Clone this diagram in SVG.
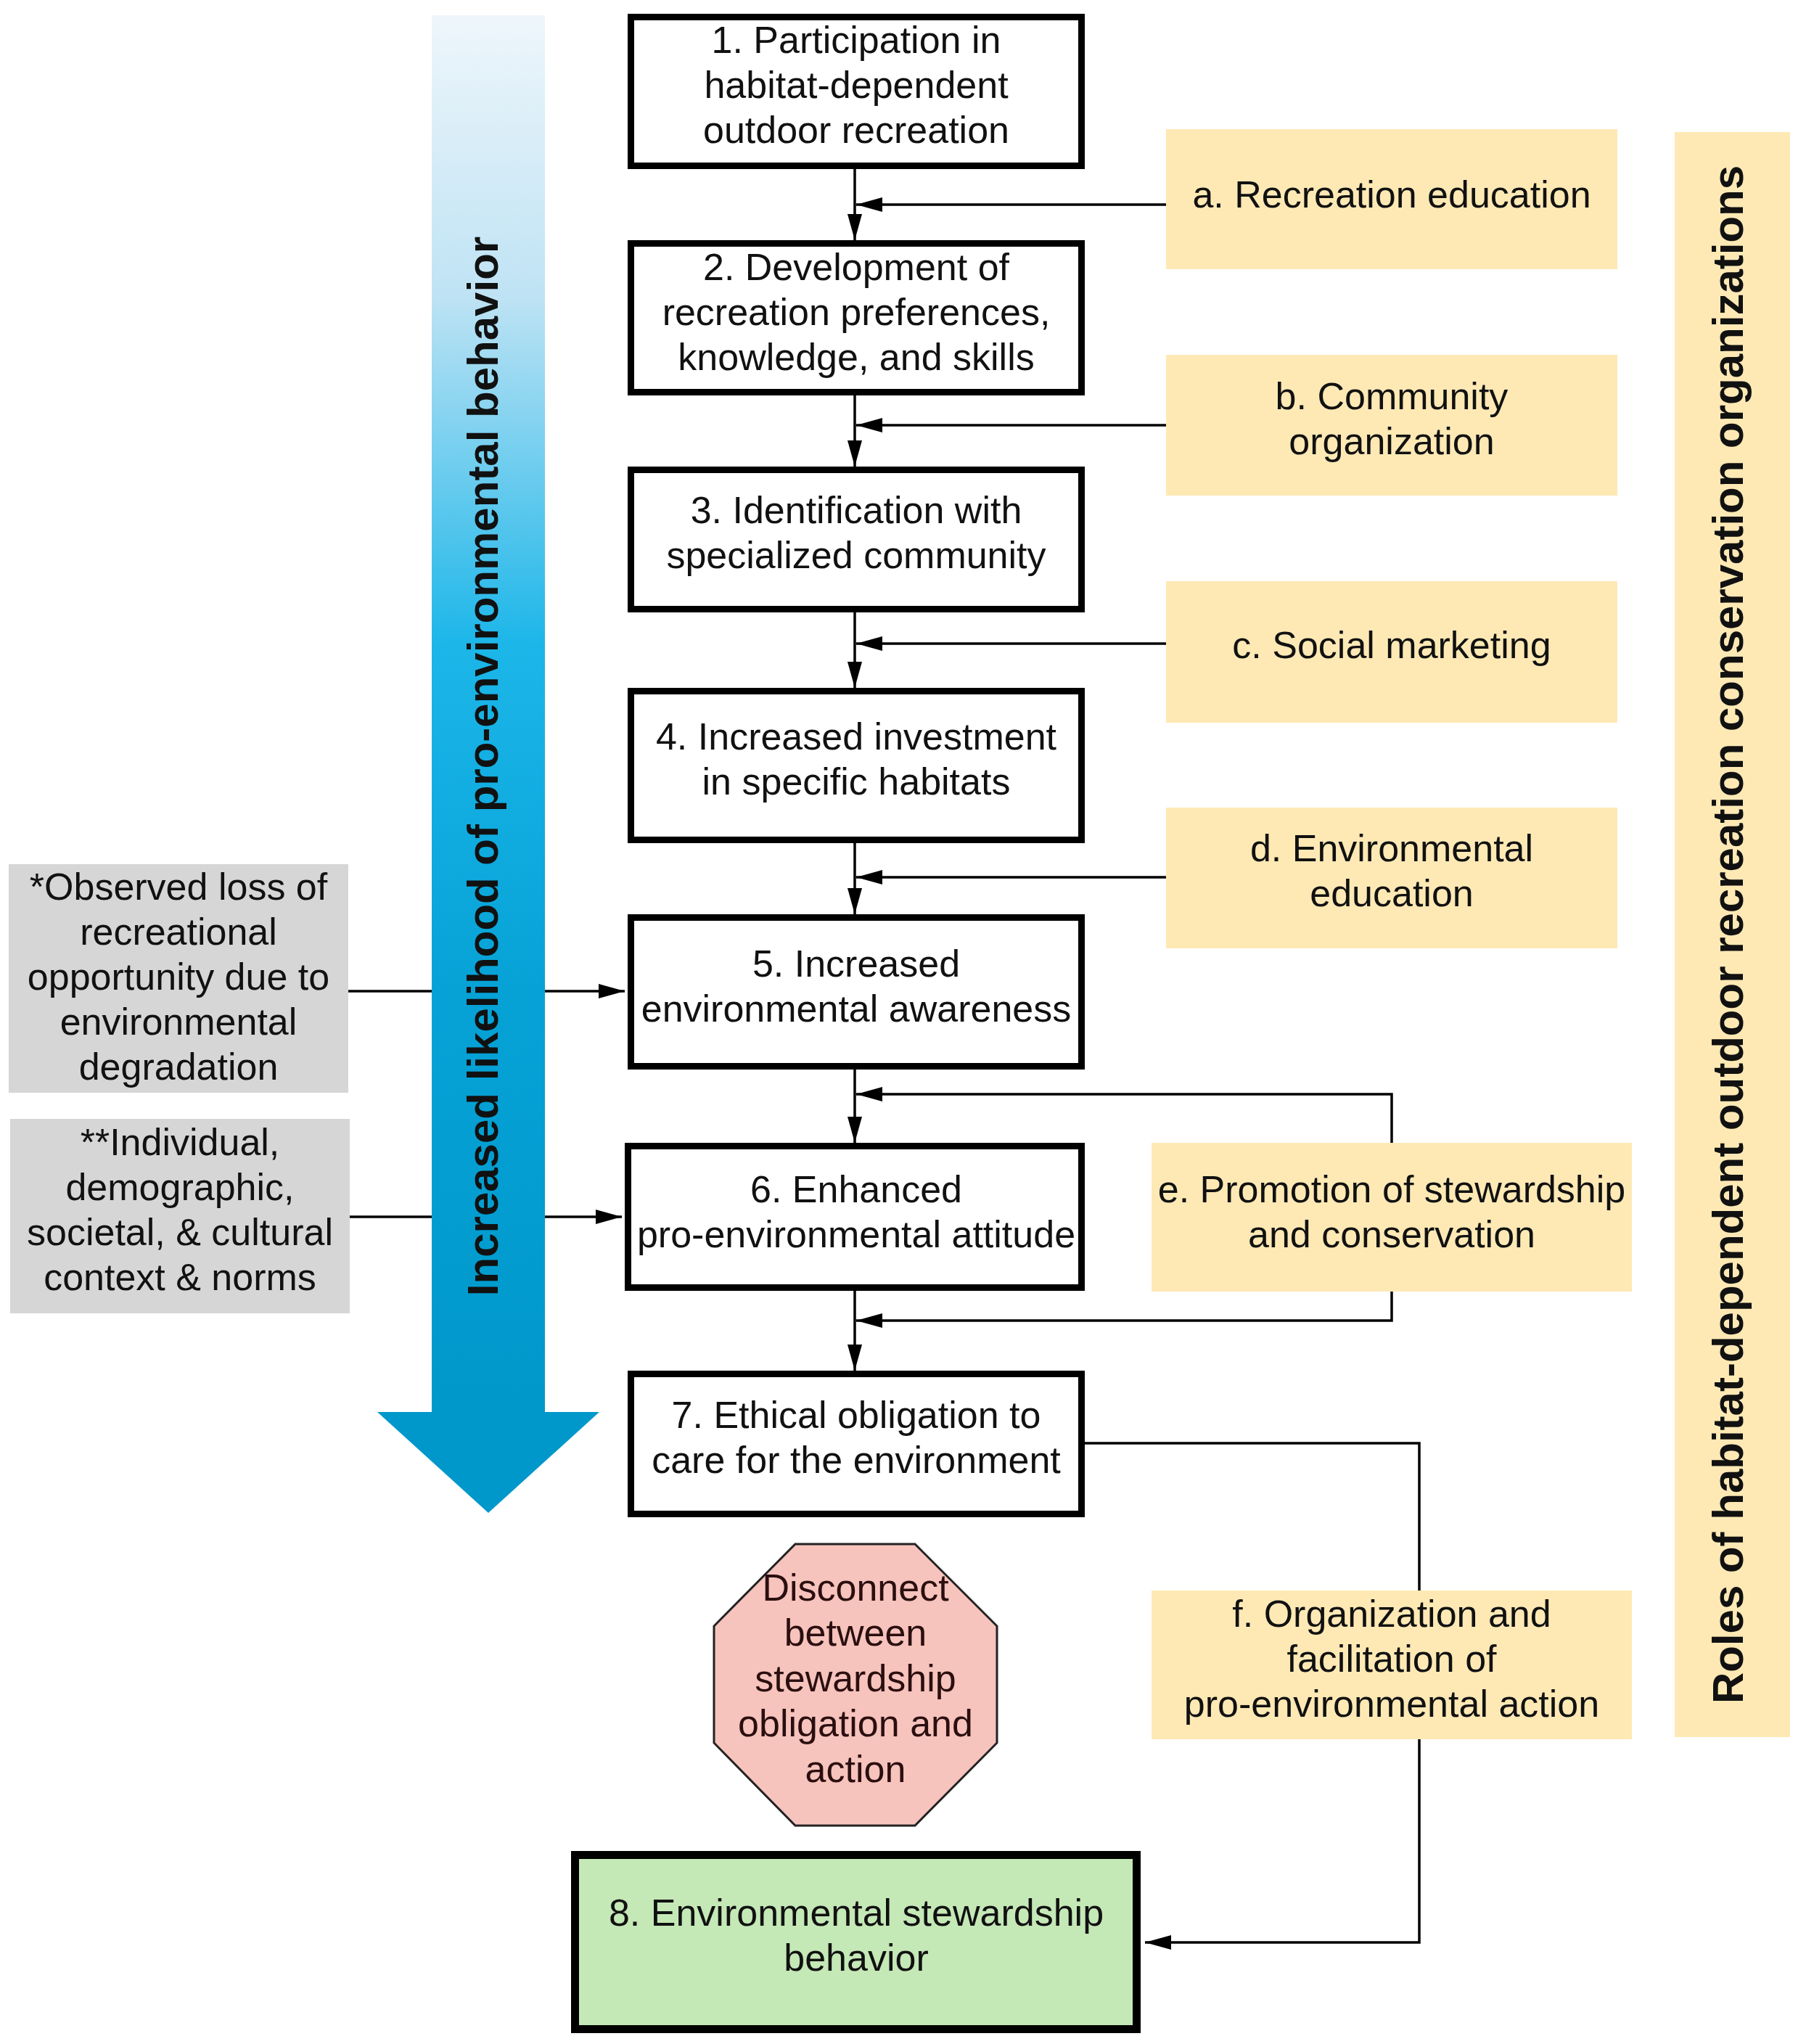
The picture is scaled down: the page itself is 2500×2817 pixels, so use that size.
<svg xmlns="http://www.w3.org/2000/svg" width="2500" height="2817" viewBox="0 0 2500 2817">
<style>
.t{font-family:"Liberation Sans",Arial,sans-serif;font-size:52px;text-anchor:middle;fill:#111}
.vt{font-family:"Liberation Sans",Arial,sans-serif;font-size:60px;font-weight:bold;text-anchor:middle;fill:#111}
.box{fill:#fff;stroke:#000;stroke-width:9}
.org{fill:#fee9b5}
.gray{fill:#d6d6d6}
.ln{fill:none;stroke:#000;stroke-width:3.5}
</style>
<defs>
<linearGradient id="blue" gradientUnits="userSpaceOnUse" x1="0" y1="21" x2="0" y2="1946">
<stop offset="0" stop-color="#eef6fb"/>
<stop offset="0.2" stop-color="#bfe3f4"/>
<stop offset="0.45" stop-color="#1cb6e9"/>
<stop offset="0.7" stop-color="#06a2d6"/>
<stop offset="1" stop-color="#0098cb"/>
</linearGradient>
<marker id="ah" markerUnits="userSpaceOnUse" markerWidth="36" markerHeight="20" refX="36" refY="10" orient="auto">
<path d="M0,0 L36,10 L0,20 z" fill="#000"/>
</marker>
</defs>

<g id="connectors">
<path class="ln" d="M1178,233 V331" marker-end="url(#ah)"/>
<path class="ln" d="M1178,545 V643" marker-end="url(#ah)"/>
<path class="ln" d="M1178,844 V948" marker-end="url(#ah)"/>
<path class="ln" d="M1178,1162 V1260" marker-end="url(#ah)"/>
<path class="ln" d="M1178,1474 V1575" marker-end="url(#ah)"/>
<path class="ln" d="M1178,1779 V1889" marker-end="url(#ah)"/>
<path class="ln" d="M1607,282 H1180" marker-end="url(#ah)"/>
<path class="ln" d="M1612,586 H1180" marker-end="url(#ah)"/>
<path class="ln" d="M1607,887 H1180" marker-end="url(#ah)"/>
<path class="ln" d="M1607,1209 H1180" marker-end="url(#ah)"/>
<path class="ln" d="M1918,1575 V1508 H1180" marker-end="url(#ah)"/>
<path class="ln" d="M1918,1780 V1820 H1180" marker-end="url(#ah)"/>
<path class="ln" d="M480,1366 H861" marker-end="url(#ah)"/>
<path class="ln" d="M482,1677 H857" marker-end="url(#ah)"/>
<path class="ln" d="M1495,1989 H1956 V2677 H1578" marker-end="url(#ah)"/>
</g>

<g id="likelihood-arrow">
<path d="M595,21 H751 V1946 H826 L673,2085 L520,1946 H595 Z" fill="url(#blue)"/>
<text class="vt" x="686" y="1056" transform="rotate(-90 686 1056)">Increased likelihood of pro-environmental behavior</text>
</g>

<g id="roles-bar">
<rect x="2308" y="182" width="159" height="2212" class="org"/>
<text class="vt" x="2402" y="1288" transform="rotate(-90 2402 1288)">Roles of habitat-dependent outdoor recreation conservation organizations</text>
</g>

<g id="n1">
<rect class="box" x="869.5" y="23.5" width="621" height="205"/>
<text class="t" x="1180" y="73">1. Participation in</text>
<text class="t" x="1180" y="135">habitat-dependent</text>
<text class="t" x="1180" y="197">outdoor recreation</text>
</g>
<g id="n2">
<rect class="box" x="869.5" y="335.5" width="621" height="205"/>
<text class="t" x="1180" y="386">2. Development of</text>
<text class="t" x="1180" y="448">recreation preferences,</text>
<text class="t" x="1180" y="510">knowledge, and skills</text>
</g>
<g id="n3">
<rect class="box" x="869.5" y="647.5" width="621" height="192"/>
<text class="t" x="1180" y="721">3. Identification with</text>
<text class="t" x="1180" y="783">specialized community</text>
</g>
<g id="n4">
<rect class="box" x="869.5" y="952.5" width="621" height="205"/>
<text class="t" x="1180" y="1033">4. Increased investment</text>
<text class="t" x="1180" y="1095">in specific habitats</text>
</g>
<g id="n5">
<rect class="box" x="869.5" y="1264.5" width="621" height="205"/>
<text class="t" x="1180" y="1346">5. Increased</text>
<text class="t" x="1180" y="1408">environmental awareness</text>
</g>
<g id="n6">
<rect class="box" x="865.5" y="1579.5" width="625" height="195"/>
<text class="t" x="1180" y="1657">6. Enhanced</text>
<text class="t" x="1180" y="1719">pro-environmental attitude</text>
</g>
<g id="n7">
<rect class="box" x="869.5" y="1893.5" width="621" height="193"/>
<text class="t" x="1180" y="1968">7. Ethical obligation to</text>
<text class="t" x="1180" y="2030">care for the environment</text>
</g>
<g id="disconnect">
<polygon points="1096,2128 1261,2128 1374,2241 1374,2402 1261,2516 1096,2516 984,2402 984,2241" fill="#f7c3bd" stroke="#222" stroke-width="3"/>
<text class="t" x="1179" y="2206" style="fill:#2a0f0f">Disconnect</text>
<text class="t" x="1179" y="2268" style="fill:#2a0f0f">between</text>
<text class="t" x="1179" y="2331" style="fill:#2a0f0f">stewardship</text>
<text class="t" x="1179" y="2393" style="fill:#2a0f0f">obligation and</text>
<text class="t" x="1179" y="2456" style="fill:#2a0f0f">action</text>
</g>
<g id="n8">
<rect x="792.5" y="2556.5" width="774" height="240" fill="#c5e8b7" stroke="#000" stroke-width="11"/>
<text class="t" x="1180" y="2654">8. Environmental stewardship</text>
<text class="t" x="1180" y="2716">behavior</text>
</g>

<g id="a">
<rect class="org" x="1607" y="178" width="622" height="193"/>
<text class="t" x="1918" y="286">a. Recreation education</text>
</g>
<g id="b">
<rect class="org" x="1607" y="489" width="622" height="194"/>
<text class="t" x="1918" y="564">b. Community</text>
<text class="t" x="1918" y="626">organization</text>
</g>
<g id="c">
<rect class="org" x="1607" y="801" width="622" height="195"/>
<text class="t" x="1918" y="907">c. Social marketing</text>
</g>
<g id="d">
<rect class="org" x="1607" y="1113" width="622" height="194"/>
<text class="t" x="1918" y="1187">d. Environmental</text>
<text class="t" x="1918" y="1249">education</text>
</g>
<g id="e">
<rect class="org" x="1587" y="1575" width="662" height="205"/>
<text class="t" x="1918" y="1657">e. Promotion of stewardship</text>
<text class="t" x="1918" y="1719">and conservation</text>
</g>
<g id="f">
<rect class="org" x="1587" y="2192" width="662" height="205"/>
<text class="t" x="1918" y="2242">f. Organization and</text>
<text class="t" x="1918" y="2304">facilitation of</text>
<text class="t" x="1918" y="2366">pro-environmental action</text>
</g>

<g id="observed-loss">
<rect class="gray" x="12" y="1191" width="468" height="315"/>
<text class="t" x="246" y="1240">*Observed loss of</text>
<text class="t" x="246" y="1302">recreational</text>
<text class="t" x="246" y="1364">opportunity due to</text>
<text class="t" x="246" y="1426">environmental</text>
<text class="t" x="246" y="1488">degradation</text>
</g>
<g id="context-norms">
<rect class="gray" x="14" y="1542" width="468" height="268"/>
<text class="t" x="248" y="1592">**Individual,</text>
<text class="t" x="248" y="1654">demographic,</text>
<text class="t" x="248" y="1716">societal, &amp; cultural</text>
<text class="t" x="248" y="1778">context &amp; norms</text>
</g>
</svg>
